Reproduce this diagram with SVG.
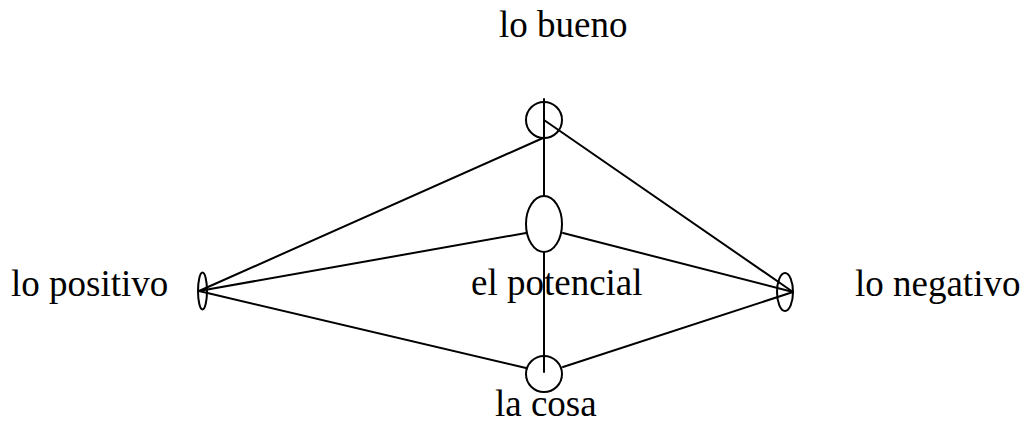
<svg xmlns="http://www.w3.org/2000/svg" width="1024" height="425" viewBox="0 0 1024 425">
  <style>
    .edge { stroke: #000; stroke-width: 2; fill: none; stroke-linecap: round; }
    .node { stroke: #000; stroke-width: 2; fill: none; }
    .solid { fill: #fff; }
    .label { font-family: "Liberation Serif", "Times New Roman", serif; font-size: 37px; fill: #000; }
  </style>
  <rect width="1024" height="425" fill="#fff"/>
  <g id="connectors">
    <line class="edge" x1="544" y1="99" x2="544" y2="372"/>
    <line class="edge" x1="199" y1="291" x2="543" y2="138"/>
    <line class="edge" x1="199" y1="291" x2="526" y2="233"/>
    <line class="edge" x1="199" y1="291" x2="526" y2="368"/>
    <line class="edge" x1="544" y1="120" x2="793" y2="292"/>
    <line class="edge" x1="563" y1="233" x2="793" y2="292"/>
    <line class="edge" x1="563" y1="367" x2="793" y2="292"/>
  </g>
  <g id="lo-bueno">
    <circle class="node" cx="544" cy="120" r="18"/>
    <text class="label" x="499" y="37">lo bueno</text>
  </g>
  <g id="el-potencial">
    <ellipse class="node solid" cx="544" cy="224" rx="18" ry="28"/>
    <text class="label" x="471" y="295">el potencial</text>
  </g>
  <g id="la-cosa">
    <circle class="node" cx="544" cy="374" r="18"/>
    <text class="label" x="495" y="416">la cosa</text>
  </g>
  <g id="lo-positivo">
    <ellipse class="node" cx="202.5" cy="291" rx="4.5" ry="18.5"/>
    <text class="label" x="11" y="296">lo positivo</text>
  </g>
  <g id="lo-negativo">
    <ellipse class="node" cx="785" cy="292" rx="8" ry="19"/>
    <text class="label" x="855" y="296">lo negativo</text>
  </g>
</svg>
